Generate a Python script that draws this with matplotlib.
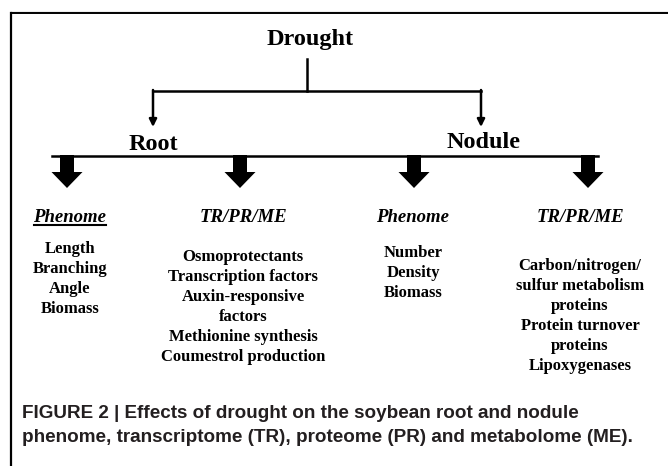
import matplotlib.pyplot as plt
from matplotlib.patches import FancyArrow

# текст схемы
top_label = 'Drought'
organs = ['Root', 'Nodule']
headers = ['Phenome', 'TR/PR/ME', 'Phenome', 'TR/PR/ME']
items = [
    ['Length', 'Branching', 'Angle', 'Biomass'],
    ['Osmoprotectants', 'Transcription factors', 'Auxin-responsive',
     'factors', 'Methionine synthesis', 'Coumestrol production'],
    ['Number', 'Density', 'Biomass'],
    ['Carbon/nitrogen/', 'sulfur metabolism', 'proteins',
     'Protein turnover', 'proteins', 'Lipoxygenases'],
]
caption = ['FIGURE 2 | Effects of drought on the soybean root and nodule',
           'phenome, transcriptome (TR), proteome (PR) and metabolome (ME).']

# позиции (в пикселях картинки)
organ_x = [153, 481]
organ_lbl_x = [153, 484]
organ_lbl_y = [145, 142]
col_x = [70, 243, 413, 580]
arrow_x = [67, 240, 414, 588]
item_y0 = [249, 257, 253, 266]
step = 20

fig = plt.figure(figsize=(6.68, 4.66), dpi=100)
ax = fig.add_axes([0, 0, 1, 1])
ax.set_xlim(0, 668)
ax.set_ylim(466, 0)
ax.axis('off')

serif = 'Liberation Serif'
# рамка
ax.plot([11, 668], [11.5, 11.5], color='#aaaaaa', lw=1.0)
ax.plot([11, 668], [12.8, 12.8], color='black', lw=1.4)
ax.plot([11, 11], [12.5, 466], color='black', lw=1.6)

ax.text(310, 39, top_label, family=serif, weight='bold', fontsize=17.5,
        ha='center', va='center')
ax.plot([307, 307], [59, 91], color='black', lw=1.8)
ax.plot([organ_x[0], organ_x[1]], [91, 91], color='black', lw=1.8)
for x in organ_x:
    ax.annotate('', xy=(x, 127), xytext=(x, 90),
                arrowprops=dict(arrowstyle='-|>', lw=1.8, color='black',
                                mutation_scale=11, shrinkA=0, shrinkB=0))
for lbl, x, y in zip(organs, organ_lbl_x, organ_lbl_y):
    ax.text(x, y, lbl, family=serif, weight='bold', fontsize=17.5,
            ha='center', va='center')

ax.plot([52, 598], [156, 156], color='black', lw=1.8)
for x in arrow_x:
    ax.add_patch(FancyArrow(x, 155, 0, 33, width=14, head_width=31,
                            head_length=16, length_includes_head=True,
                            color='black', lw=0))

for i, (h, x) in enumerate(zip(headers, col_x)):
    ax.text(x, 218, h, family=serif, weight='bold', style='italic',
            fontsize=13.5, ha='center', va='center')
    if i == 0:
        ax.plot([x - 36, x + 36], [224.5, 224.5], color='black', lw=1.5)
    for k, s in enumerate(items[i]):
        ax.text(x, item_y0[i] + k * step, s, family=serif, weight='bold',
                fontsize=12, ha='center', va='center')

for k, line in enumerate(caption):
    ax.text(22, 414 + k * 23, line, family='Liberation Sans', weight='bold',
            fontsize=13.6, color='#231f20', ha='left', va='center')

fig.savefig('out.png', dpi=100)
